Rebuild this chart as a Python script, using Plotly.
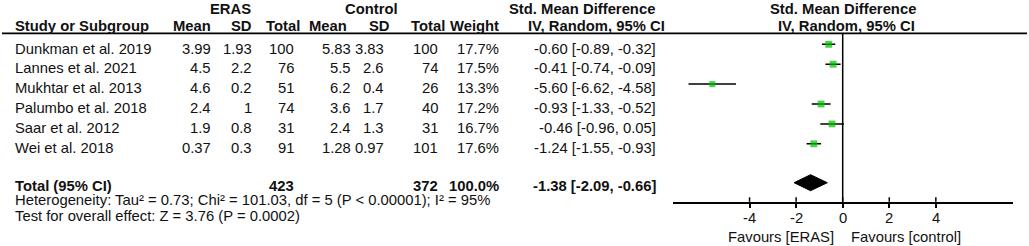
import plotly.graph_objects as go

# ---------------- data ----------------
studies = ["Dunkman et al. 2019", "Lannes et al. 2021", "Mukhtar et al. 2013",
           "Palumbo et al. 2018", "Saar et al. 2012", "Wei et al. 2018"]
eras_mean = ["3.99", "4.5", "4.6", "2.4", "1.9", "0.37"]
eras_sd = ["1.93", "2.2", "0.2", "1", "0.8", "0.3"]
eras_n = [100, 76, 51, 74, 31, 91]
ctrl_mean = ["5.83", "5.5", "6.2", "3.6", "2.4", "1.28"]
ctrl_sd = ["3.83", "2.6", "0.4", "1.7", "1.3", "0.97"]
ctrl_n = [100, 74, 26, 40, 31, 101]
weight = [17.7, 17.5, 13.3, 17.2, 16.7, 17.6]
smd = [-0.60, -0.41, -5.60, -0.93, -0.46, -1.24]
ci_lo = [-0.89, -0.74, -6.62, -1.33, -0.96, -1.55]
ci_hi = [-0.32, -0.09, -4.58, -0.52, 0.05, -0.93]
total_smd, total_lo, total_hi = -1.38, -2.09, -0.66
heterogeneity = "Heterogeneity: Tau² = 0.73; Chi² = 101.03, df = 5 (P < 0.00001); I² = 95%"
overall = "Test for overall effect: Z = 3.76 (P = 0.0002)"
tick_vals = [-4, -2, 0, 2, 4]
tick_text = ["-4", "-2", "0", "2", "4"]

# ---------------- layout constants ----------------
W, H = 1029, 246
FONT = "Liberation Sans, Arial, sans-serif"
FS = 14.8
TXT = "#111111"
AXIS_Y = 201.7
ROW0_MARK, ROW0_TEXT, ROW_STEP = 44.3, 48.5, 19.9
TOTAL_MARK, TOTAL_TEXT = 182.7, 185.7


def px(x):
    return x / W


def py(y):
    return 1 - y / H


annotations = []


def txt(x, y, s, anchor="right", bold=False, xref="paper"):
    annotations.append(dict(
        x=px(x) if xref == "paper" else x, y=py(y), xref=xref, yref="paper",
        text=f"<b>{s}</b>" if bold else s,
        showarrow=False, xanchor=anchor, yanchor="middle", borderpad=0,
        font=dict(family=FONT, size=FS, color=TXT)))


# headers
txt(230, 9.5, "ERAS", "center", True)
txt(371, 9.5, "Control", "center", True)
txt(582, 9.5, "Std. Mean Difference", "center", True)
txt(843, 9.5, "Std. Mean Difference", "center", True)
txt(14, 26.5, "Study or Subgroup", "left", True)
txt(212, 26.5, "Mean", "right", True)
txt(253, 26.5, "SD", "right", True)
txt(301, 26.5, "Total", "right", True)
txt(348, 26.5, "Mean", "right", True)
txt(391, 26.5, "SD", "right", True)
txt(446, 26.5, "Total", "right", True)
txt(500, 26.5, "Weight", "right", True)
txt(596, 26.5, "IV, Random, 95% CI", "center", True)
txt(846, 26.5, "IV, Random, 95% CI", "center", True)

row_mark_y = []
for i, s in enumerate(studies):
    yt = ROW0_TEXT + ROW_STEP * i
    row_mark_y.append(ROW0_MARK + ROW_STEP * i)
    txt(14, yt, s, "left")
    txt(212, yt, eras_mean[i])
    txt(253, yt, eras_sd[i])
    txt(295, yt, str(eras_n[i]))
    txt(352, yt, ctrl_mean[i])
    txt(385, yt, ctrl_sd[i])
    txt(439, yt, str(ctrl_n[i]))
    txt(500, yt, f"{weight[i]:.1f}%")
    txt(657, yt, f"{smd[i]:.2f} [{ci_lo[i]:.2f}, {ci_hi[i]:.2f}]")

txt(14, TOTAL_TEXT, "Total (95% CI)", "left", True)
txt(295, TOTAL_TEXT, str(sum(eras_n)), "right", True)
txt(439, TOTAL_TEXT, str(sum(ctrl_n)), "right", True)
txt(500, TOTAL_TEXT, f"{sum(weight):.1f}%", "right", True)
txt(657, TOTAL_TEXT, f"{total_smd:.2f} [{total_lo:.2f}, {total_hi:.2f}]", "right", True)
txt(14, 199.5, heterogeneity, "left")
txt(14, 216, overall, "left")

# axis tick labels placed on the data scale
for v, t in zip(tick_vals, tick_text):
    txt(v, 218.3, t, "center", xref="x")

txt(835, 236.5, "Favours [ERAS]", "right")
txt(850, 236.5, "Favours [control]", "left")

# ---------------- traces ----------------
fig = go.Figure()

wx, wy = [], []
for lo, hi, y in zip(ci_lo, ci_hi, row_mark_y):
    wx += [lo, hi, None]
    wy += [y, y, None]
fig.add_trace(go.Scatter(x=wx, y=wy, mode="lines", line=dict(color="black", width=1.5),
                         hoverinfo="skip", showlegend=False))

fig.add_trace(go.Scatter(
    x=smd, y=row_mark_y, mode="markers",
    marker=dict(symbol="square", color="#00c000", size=[1.65 * w ** 0.5 for w in weight],
                line=dict(width=0)),
    showlegend=False, cliponaxis=False))

fig.add_trace(go.Scatter(
    x=[total_lo, total_smd, total_hi, total_smd, total_lo],
    y=[TOTAL_MARK, TOTAL_MARK - 8, TOTAL_MARK, TOTAL_MARK + 8, TOTAL_MARK],
    mode="lines", fill="toself", fillcolor="black", line=dict(color="black", width=1),
    showlegend=False, hoverinfo="skip"))

shapes = [
    dict(type="line", xref="paper", yref="paper", x0=px(2), x1=px(1027), y0=py(33.3), y1=py(33.3),
         line=dict(color="black", width=1.8)),
    dict(type="line", xref="x", yref="paper", x0=0, x1=0, y0=py(33.3), y1=py(AXIS_Y),
         line=dict(color="black", width=1.5)),
]
for t in tick_vals:
    shapes.append(dict(type="line", xref="x", yref="paper", x0=t, x1=t, y0=py(AXIS_Y - 4.5),
                       y1=py(AXIS_Y), line=dict(color="black", width=1.5)))

fig.update_layout(
    width=W, height=H, margin=dict(l=0, r=0, t=0, b=0), autosize=False,
    paper_bgcolor="white", plot_bgcolor="white",
    xaxis=dict(domain=[px(672.7), px(1012.7)], range=[-7.3, 7.3], showgrid=False, zeroline=False,
               showline=True, linecolor="black", linewidth=1.5, ticks="outside", ticklen=5,
               tickwidth=1.5, tickcolor="black", tickvals=tick_vals, showticklabels=False,
               anchor="y", fixedrange=True),
    yaxis=dict(domain=[1 - AXIS_Y / H, 1], range=[AXIS_Y, 0], visible=False, fixedrange=True),
    shapes=shapes, annotations=annotations,
)

fig.write_html("out.html", config={"displayModeBar": False},
               post_script="document.body.style.margin='0';document.body.style.overflow='hidden';")
